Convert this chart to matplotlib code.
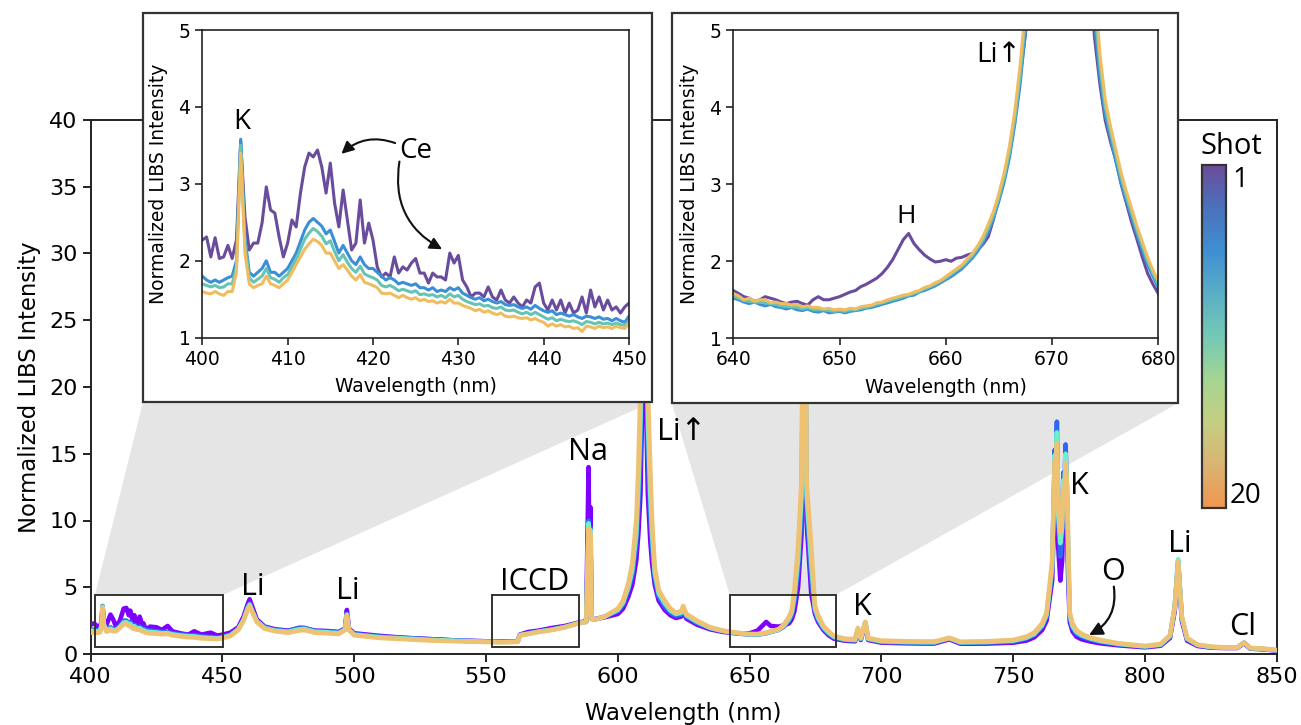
import numpy as np
import matplotlib
matplotlib.use('Agg')
import matplotlib.pyplot as plt
from matplotlib.patches import Rectangle, Polygon
from matplotlib.colors import LinearSegmentedColormap, Normalize
from matplotlib.cm import ScalarMappable

# ---------------- data ----------------
wl_main = [400, 401.3, 402.5, 403.5, 404.1, 404.5, 405.0, 406, 407.5, 408.5, 409.5, 411, 412.5, 413.5, 414.5, 415, 416, 416.6, 417.5, 418.6,
           419.3, 420, 421, 422.5, 425, 427, 429.2, 431, 434, 437, 439.3, 442, 445.5, 448, 450,
           453, 456, 458, 459.5, 460.3, 461.2, 463, 466, 470, 475, 479, 481, 485, 490, 494, 496.5, 497.2, 498, 500, 505,
           510, 520, 530, 540, 550, 556, 562, 562.8, 566, 570, 575, 580, 585, 588, 588.9, 589.3, 589.6, 590.0, 591, 595,
           600, 602, 604, 605.5, 607, 607.8, 608.6, 609.4, 610.0, 610.6, 611.4, 612.3, 613, 614, 615.5, 617.8, 620, 622, 624, 624.8,
           626, 630, 635, 640, 645, 650, 653, 656.3, 658, 661, 663,
           665, 666, 667, 668.4, 669.7, 670.2, 670.8, 671.3, 671.6, 673.4, 674.8, 676, 678, 680, 682, 686, 690, 691.1, 692.2, 693.9,
           695, 700, 710, 720, 725.8, 730, 740, 750, 755, 758, 761, 762.7, 764.8, 765.8, 766.2, 766.6, 767.1, 767.9, 768.6, 769.0,
           769.4, 769.9, 770.5, 770.9, 771.5, 772.5, 774, 776, 779, 783, 790, 800, 806, 809.5, 811.3, 812.6, 814, 816, 820, 825,
           830, 835, 837.6, 840, 845, 850]

main_shot1 = [2.2, 2.3, 2.05, 2.1, 2.4, 3.55, 2.5, 2.2, 2.95, 2.6, 2.1, 2.45, 3.4, 3.45, 2.9, 3.25, 2.45, 2.9, 2.15, 2.8,
              2.3, 2.3, 1.8, 2.05, 2.0, 1.8, 2.1, 1.7, 1.55, 1.45, 1.7, 1.45, 1.6, 1.38, 1.45,
              1.6, 2.0, 2.8, 3.7, 4.1, 3.6, 2.6, 2.05, 1.85, 1.75, 1.95, 1.95, 1.75, 1.72, 1.65, 1.9, 3.3, 1.9, 1.55, 1.45,
              1.35, 1.2, 1.1, 1.0, 0.95, 0.95, 0.95, 1.45, 1.65, 1.75, 1.95, 2.1, 2.35, 2.45, 14, 4, 11, 2.7, 2.6, 2.75,
              3.0, 3.4, 4.3, 5.2, 7.0, 9.0, 12, 20, 60, 20, 12, 8.5, 6.8, 5.2, 4.0, 3.3, 2.9, 2.7, 2.8, 3.2,
              2.65, 2.2, 1.85, 1.65, 1.55, 1.55, 1.75, 2.4, 2.1, 2.05, 2.15,
              2.3, 2.6, 3.2, 5.0, 9.0, 18, 60, 18, 10, 4.5, 3.0, 2.4, 1.8, 1.4, 1.15, 1.0, 0.95, 1.8, 1.05, 2.3,
              1.05, 0.85, 0.8, 0.78, 1.1, 0.77, 0.78, 0.85, 1.0, 1.25, 1.8, 2.5, 5.5, 12, 11, 14, 8, 5.5, 7, 10,
              9, 13, 9, 5.5, 2.4, 1.7, 1.3, 1.1, 0.95, 0.8, 0.65, 0.5, 0.62, 1.2, 3.2, 6.7, 2.5, 1.0, 0.6, 0.48,
              0.45, 0.45, 0.8, 0.4, 0.35, 0.25]

main_shot3 = [1.85, 1.8, 1.78, 1.82, 2.2, 3.6, 2.3, 1.82, 2.0, 1.85, 1.85, 2.1, 2.5, 2.5, 2.35, 2.4, 2.1, 2.2, 2.0, 2.05,
              1.95, 1.9, 1.8, 1.75, 1.7, 1.65, 1.65, 1.55, 1.47, 1.4, 1.4, 1.32, 1.27, 1.22, 1.28,
              1.45, 1.9, 2.6, 3.5, 3.8, 3.3, 2.5, 2.0, 1.8, 1.72, 1.95, 1.95, 1.72, 1.7, 1.62, 1.85, 3.0, 1.85, 1.5, 1.4,
              1.3, 1.2, 1.1, 1.0, 0.95, 0.92, 0.93, 1.42, 1.55, 1.7, 1.85, 2.05, 2.32, 2.42, 10, 3.2, 9.5, 2.65, 2.58, 2.8,
              3.2, 3.7, 4.8, 5.9, 8.2, 11, 15, 26, 60, 26, 15, 10.5, 8.0, 5.7, 4.3, 3.55, 3.1, 2.85, 2.95, 3.35,
              2.8, 2.32, 1.92, 1.7, 1.55, 1.45, 1.45, 1.55, 1.65, 1.8, 2.05,
              2.5, 2.9, 3.9, 6.3, 10.5, 21, 60, 21, 11, 5.6, 3.2, 2.55, 1.9, 1.5, 1.22, 1.05, 1.0, 1.85, 1.1, 2.35,
              1.1, 0.9, 0.85, 0.83, 1.15, 0.82, 0.85, 0.93, 1.15, 1.42, 2.05, 2.8, 6.2, 15.3, 13.5, 17.4, 10, 7.3, 9, 13.6,
              12, 15.7, 11.5, 6.8, 2.7, 1.95, 1.5, 1.3, 1.1, 0.92, 0.72, 0.54, 0.67, 1.3, 3.5, 7.0, 2.7, 1.1, 0.65, 0.5,
              0.47, 0.47, 0.85, 0.42, 0.37, 0.27]

main_shot7 = [1.75, 1.7, 1.7, 1.72, 2.1, 3.55, 2.2, 1.75, 1.9, 1.78, 1.78, 2.0, 2.36, 2.38, 2.22, 2.26, 2.0, 2.08, 1.9, 1.93,
              1.83, 1.78, 1.68, 1.65, 1.61, 1.56, 1.57, 1.47, 1.39, 1.33, 1.32, 1.24, 1.2, 1.17, 1.22,
              1.4, 1.85, 2.55, 3.4, 3.7, 3.25, 2.45, 1.95, 1.75, 1.67, 1.85, 1.88, 1.67, 1.62, 1.56, 1.82, 2.95, 1.82, 1.45, 1.35,
              1.25, 1.15, 1.05, 0.98, 0.92, 0.9, 0.92, 1.41, 1.52, 1.67, 1.82, 2.02, 2.3, 2.4, 9.8, 3.1, 9.3, 2.62, 2.56, 2.8,
              3.3, 3.85, 5.0, 6.3, 9.0, 12.5, 17.5, 30, 60, 30, 17.5, 12, 9.0, 6.1, 4.55, 3.8, 3.25, 3.0, 3.08, 3.48,
              2.9, 2.42, 1.96, 1.72, 1.57, 1.47, 1.47, 1.57, 1.67, 1.82, 2.12,
              2.65, 3.1, 4.3, 7.1, 11.8, 23, 60, 23, 12, 6.8, 3.4, 2.7, 2.0, 1.6, 1.3, 1.1, 1.05, 1.9, 1.15, 2.4,
              1.15, 0.95, 0.9, 0.88, 1.2, 0.87, 0.9, 1.0, 1.22, 1.5, 2.15, 2.95, 6.5, 14.9, 13.3, 16.6, 10.5, 8.3, 9.5, 13,
              11.8, 15, 12, 7.4, 2.9, 2.1, 1.65, 1.4, 1.18, 0.98, 0.76, 0.57, 0.71, 1.35, 3.5, 7.1, 2.75, 1.15, 0.68, 0.53,
              0.48, 0.48, 0.85, 0.44, 0.38, 0.28]

main_shot20 = [1.6, 1.6, 1.58, 1.62, 2.0, 3.45, 2.1, 1.67, 1.8, 1.7, 1.7, 1.95, 2.22, 2.25, 2.1, 2.1, 1.9, 1.95, 1.8, 1.82,
               1.72, 1.68, 1.58, 1.55, 1.52, 1.48, 1.5, 1.4, 1.32, 1.26, 1.24, 1.17, 1.14, 1.12, 1.18,
               1.35, 1.8, 2.5, 3.3, 3.6, 3.2, 2.4, 1.9, 1.7, 1.6, 1.75, 1.8, 1.6, 1.55, 1.5, 1.8, 2.9, 1.8, 1.4, 1.3,
               1.2, 1.1, 1.0, 0.95, 0.9, 0.88, 0.9, 1.4, 1.5, 1.65, 1.8, 2.0, 2.3, 2.4, 9.4, 3.0, 9.0, 2.6, 2.55, 2.8,
               3.4, 4.0, 5.3, 6.8, 10, 14, 20, 35, 60, 35, 20, 14, 10, 6.5, 4.8, 4.0, 3.4, 3.1, 3.2, 3.6,
               3.0, 2.5, 2.0, 1.75, 1.6, 1.5, 1.5, 1.6, 1.7, 1.85, 2.2,
               2.8, 3.3, 4.8, 8.0, 13, 25, 60, 25, 13, 8.0, 3.6, 2.9, 2.1, 1.7, 1.35, 1.15, 1.1, 1.95, 1.2, 2.4,
               1.2, 1.0, 0.95, 0.93, 1.2, 0.92, 0.95, 1.05, 1.3, 1.6, 2.3, 3.1, 7.0, 14.4, 13, 15.8, 11, 9.1, 10, 12.5,
               11.5, 14.3, 12.5, 8, 3.1, 2.3, 1.8, 1.5, 1.25, 1.05, 0.8, 0.6, 0.75, 1.4, 3.5, 6.9, 2.8, 1.2, 0.7, 0.55,
               0.5, 0.5, 0.85, 0.45, 0.4, 0.3]

# inset 1 : 400-450 nm, 0.5 nm steps
wl_inset1 = np.arange(400.0, 450.01, 0.5)
in1_shot1 = [2.27, 2.31, 2.05, 2.30, 2.03, 2.05, 2.20, 2.03, 2.27, 3.55, 2.57, 2.14, 2.23, 2.23, 2.49, 2.96, 2.66, 2.62, 2.31, 2.05,
             2.23, 2.53, 2.44, 2.88, 3.22, 3.40, 3.35, 3.44, 3.22, 2.88, 3.27, 2.75, 2.44, 2.92, 2.53, 2.14, 2.23, 2.79, 2.23, 2.49,
             2.27, 1.92, 1.79, 1.84, 1.79, 2.05, 1.84, 1.92, 1.88, 1.97, 2.03, 1.84, 1.84, 1.71, 1.84, 1.79, 1.79, 1.75, 2.10, 1.97,
             2.07, 1.75, 1.66, 1.53, 1.58, 1.58, 1.53, 1.66, 1.53, 1.49, 1.62, 1.49, 1.45, 1.53, 1.45, 1.40, 1.49, 1.45, 1.66, 1.71,
             1.45, 1.36, 1.49, 1.36, 1.49, 1.32, 1.45, 1.32, 1.36, 1.53, 1.32, 1.62, 1.40, 1.53, 1.36, 1.49, 1.36, 1.40, 1.32, 1.40,
             1.45]
in1_shot4 = [1.80, 1.75, 1.72, 1.75, 1.72, 1.75, 1.78, 1.80, 2.00, 3.58, 2.30, 1.85, 1.80, 1.85, 1.90, 2.00, 1.85, 1.85, 1.80, 1.85,
             1.90, 2.00, 2.10, 2.25, 2.40, 2.50, 2.55, 2.50, 2.45, 2.35, 2.40, 2.25, 2.10, 2.20, 2.10, 2.00, 1.95, 2.05, 1.95, 1.90,
             1.90, 1.85, 1.80, 1.75, 1.78, 1.75, 1.70, 1.72, 1.70, 1.68, 1.70, 1.65, 1.65, 1.62, 1.65, 1.60, 1.62, 1.60, 1.65, 1.62,
             1.65, 1.58, 1.55, 1.52, 1.50, 1.52, 1.48, 1.50, 1.47, 1.45, 1.47, 1.43, 1.42, 1.43, 1.40, 1.38, 1.40, 1.37, 1.42, 1.38,
             1.35, 1.33, 1.35, 1.30, 1.32, 1.30, 1.28, 1.30, 1.27, 1.25, 1.28, 1.27, 1.25, 1.27, 1.24, 1.25, 1.22, 1.25, 1.22, 1.20,
             1.28]
in1_shot10 = [1.70, 1.68, 1.66, 1.68, 1.65, 1.66, 1.70, 1.70, 1.92, 3.50, 2.20, 1.78, 1.72, 1.76, 1.80, 1.90, 1.78, 1.76, 1.72, 1.78,
              1.82, 1.92, 2.02, 2.15, 2.28, 2.36, 2.42, 2.38, 2.32, 2.22, 2.26, 2.12, 2.00, 2.08, 1.98, 1.90, 1.85, 1.93, 1.83, 1.80,
              1.78, 1.75, 1.68, 1.66, 1.68, 1.65, 1.61, 1.63, 1.61, 1.59, 1.61, 1.56, 1.57, 1.55, 1.56, 1.53, 1.55, 1.52, 1.57, 1.53,
              1.55, 1.50, 1.47, 1.45, 1.43, 1.44, 1.41, 1.42, 1.39, 1.38, 1.40, 1.36, 1.35, 1.36, 1.33, 1.31, 1.33, 1.30, 1.33, 1.30,
              1.27, 1.24, 1.26, 1.22, 1.24, 1.22, 1.21, 1.22, 1.20, 1.17, 1.21, 1.20, 1.18, 1.20, 1.18, 1.19, 1.17, 1.19, 1.17, 1.16,
              1.22]
in1_shot20 = [1.60, 1.58, 1.57, 1.60, 1.57, 1.55, 1.60, 1.60, 1.85, 3.40, 2.10, 1.70, 1.65, 1.68, 1.70, 1.80, 1.70, 1.68, 1.65, 1.70,
              1.75, 1.85, 1.95, 2.05, 2.15, 2.22, 2.28, 2.25, 2.20, 2.10, 2.10, 2.00, 1.90, 1.95, 1.88, 1.80, 1.75, 1.82, 1.72, 1.70,
              1.68, 1.65, 1.58, 1.57, 1.58, 1.55, 1.52, 1.55, 1.52, 1.50, 1.52, 1.48, 1.50, 1.47, 1.48, 1.45, 1.47, 1.45, 1.50, 1.45,
              1.45, 1.42, 1.40, 1.38, 1.35, 1.37, 1.33, 1.35, 1.32, 1.30, 1.32, 1.28, 1.27, 1.28, 1.26, 1.25, 1.26, 1.23, 1.25, 1.22,
              1.20, 1.15, 1.18, 1.15, 1.17, 1.14, 1.15, 1.12, 1.13, 1.08, 1.15, 1.14, 1.12, 1.15, 1.13, 1.14, 1.12, 1.15, 1.13, 1.12,
              1.18]

# inset 2 : 640-680 nm, 0.5 nm steps
wl_inset2 = np.arange(640.0, 680.01, 0.5)
in2_shot1 = [1.62, 1.58, 1.54, 1.52, 1.48, 1.50, 1.54, 1.52, 1.50, 1.47, 1.45, 1.47, 1.48, 1.45, 1.43, 1.50, 1.54, 1.50, 1.50, 1.52,
             1.54, 1.57, 1.60, 1.62, 1.67, 1.70, 1.74, 1.78, 1.84, 1.92, 2.02, 2.15, 2.28, 2.36, 2.23, 2.15, 2.08, 2.03, 1.99, 2.00,
             2.02, 2.00, 2.04, 2.05, 2.08, 2.10, 2.15, 2.22, 2.32, 2.55, 2.84, 3.10, 3.44, 3.90, 4.39, 4.95, 5.8, 7.0, 9.0, 13.0,
             20.0, 30.0, 35.0, 30.0, 20.0, 13.0, 8.0, 5.8, 4.9, 4.3, 3.83, 3.55, 3.31, 3.00, 2.75, 2.50, 2.28, 2.05, 1.84, 1.70,
             1.58]
in2_shot4 = [1.52, 1.50, 1.47, 1.45, 1.47, 1.44, 1.42, 1.44, 1.41, 1.40, 1.38, 1.40, 1.37, 1.36, 1.38, 1.35, 1.34, 1.36, 1.33, 1.34,
             1.35, 1.33, 1.35, 1.36, 1.37, 1.39, 1.40, 1.42, 1.44, 1.46, 1.48, 1.50, 1.52, 1.55, 1.56, 1.60, 1.62, 1.65, 1.68, 1.72,
             1.76, 1.80, 1.85, 1.90, 1.97, 2.04, 2.13, 2.24, 2.38, 2.56, 2.78, 3.03, 3.35, 3.78, 4.30, 5.0, 6.0, 7.8, 11.0, 16.0,
             25.0, 38.0, 42.0, 38.0, 25.0, 16.0, 9.5, 6.6, 5.1, 4.4, 3.90, 3.60, 3.30, 3.02, 2.78, 2.56, 2.34, 2.14, 1.95, 1.80,
             1.66]
in2_shot10 = [1.55, 1.52, 1.49, 1.48, 1.47, 1.47, 1.46, 1.45, 1.44, 1.42, 1.41, 1.41, 1.40, 1.38, 1.40, 1.37, 1.37, 1.37, 1.36, 1.35,
              1.36, 1.35, 1.37, 1.37, 1.39, 1.40, 1.42, 1.44, 1.46, 1.48, 1.50, 1.52, 1.54, 1.56, 1.58, 1.61, 1.64, 1.67, 1.70, 1.74,
              1.78, 1.83, 1.88, 1.93, 2.00, 2.07, 2.17, 2.28, 2.43, 2.60, 2.83, 3.09, 3.42, 3.86, 4.42, 5.15, 6.2, 8.1, 11.5, 17.0,
              26.0, 39.0, 44.0, 39.0, 26.0, 17.0, 10.2, 7.0, 5.35, 4.55, 4.00, 3.68, 3.38, 3.08, 2.84, 2.62, 2.40, 2.20, 2.00, 1.84,
              1.70]
in2_shot20 = [1.58, 1.55, 1.50, 1.52, 1.48, 1.50, 1.50, 1.46, 1.47, 1.45, 1.45, 1.43, 1.44, 1.41, 1.42, 1.40, 1.40, 1.38, 1.39, 1.37,
              1.38, 1.37, 1.39, 1.38, 1.41, 1.42, 1.43, 1.46, 1.47, 1.50, 1.52, 1.54, 1.56, 1.57, 1.60, 1.62, 1.66, 1.68, 1.72, 1.75,
              1.80, 1.85, 1.90, 1.95, 2.03, 2.10, 2.20, 2.32, 2.48, 2.65, 2.88, 3.15, 3.50, 3.95, 4.55, 5.3, 6.5, 8.5, 12.0, 18.0,
              28.0, 40.0, 45.0, 40.0, 28.0, 18.0, 11.0, 7.5, 5.6, 4.7, 4.10, 3.75, 3.45, 3.15, 2.90, 2.68, 2.45, 2.25, 2.05, 1.88,
              1.75]

xticks_main = [400, 450, 500, 550, 600, 650, 700, 750, 800, 850]
yticks_main = [0, 5, 10, 15, 20, 25, 30, 35, 40]
xticks_in1 = [400, 410, 420, 430, 440, 450]
xticks_in2 = [640, 650, 660, 670, 680]
yticks_in = [1, 2, 3, 4, 5]
shot_labels = ['1', '20']

main_colors = ['#8000ff', '#2e66f5', '#6ef0cc', '#efc273']
inset_colors = ['#6a4c9c', '#3b8fd6', '#66c4b6', '#f0bc60']
cb_colors = ['#6b4c9a', '#4a72bc', '#3f8fd2', '#5aafc6', '#74c8b6', '#a4d592', '#c4cf82', '#d9b472', '#f0964e']

ANN = ['Open Sans', 'DejaVu Sans']

# ---------------- figure ----------------
W, H = 1301, 725
fig = plt.figure(figsize=(W / 100, H / 100), dpi=100)


def fx(px):
    return px / W


def fy(py):
    return 1 - py / H


ax = fig.add_axes([fx(90.7), fy(654), fx(1276.7) - fx(90.7), fy(120) - fy(654)])
ax.set_xlim(400, 850)
ax.set_ylim(0, 40)
ax.set_xticks(xticks_main)
ax.set_yticks(yticks_main)
ax.tick_params(labelsize=16, length=6, width=1.4, color='#222222')
for s in ax.spines.values():
    s.set_linewidth(1.4)
    s.set_color('#222222')
ax.set_xlabel('Wavelength (nm)', fontsize=16.4)
ax.set_ylabel('Normalized LIBS Intensity', fontsize=16.4)
ax.xaxis.set_label_coords(0.5, -0.1105)
ax.xaxis.label.set_va('center')
ax.yaxis.set_label_coords(-0.052, 0.5)
ax.yaxis.label.set_va('center')

for ys, c in zip([main_shot1, main_shot3, main_shot7, main_shot20], main_colors):
    ax.plot(wl_main, ys, color=c, lw=3.3, solid_joinstyle='round', solid_capstyle='round', zorder=3)

# zoom rectangles
rects = [(401.6, 450.1), (552.4, 585.4), (642.5, 682.7)]
for x0, x1 in rects:
    ax.add_patch(Rectangle((x0, 0.5), x1 - x0, 3.92, fill=False, ec='#333333', lw=1.4, zorder=4))

# inset frames (pixel coords)
frames = [(143, 13, 652, 402), (671.7, 13, 1178.3, 403)]


def fig2data(px, py):
    d = fig.transFigure.transform((fx(px), fy(py)))
    return ax.transData.inverted().transform(d)


for (x0, x1), (l, t, r, b) in zip([rects[0], rects[2]], frames):
    pts = [(x0, 4.42), (x1, 4.42), tuple(fig2data(r, b)), tuple(fig2data(l, b))]
    ax.add_patch(Polygon(pts, closed=True, fc='#e5e5e5', ec='none', zorder=1, clip_on=False))
    fig.add_artist(Rectangle((fx(l), fy(b)), fx(r) - fx(l), fy(t) - fy(b), transform=fig.transFigure,
                             fc='white', ec='#333333', lw=1.6, zorder=5))

# main annotations
ann_kw = dict(fontsize=22, family=ANN, ha='center', va='baseline', zorder=6)
ax.text(461.6, 4.45, 'Li', **ann_kw)
ax.text(497.7, 4.12, 'Li', **ann_kw)
ax.text(568.6, 4.8, 'ICCD', **ann_kw)
ax.text(588.8, 14.54, 'Na', **ann_kw)
ax.text(614.7, 16.04, 'Li\u2191', fontsize=22, family=ANN, ha='left', va='baseline', zorder=6)
ax.text(692.7, 2.92, 'K', **ann_kw)
ax.text(775.3, 12.0, 'K', **ann_kw)
ax.text(788.0, 5.55, 'O', **ann_kw)
ax.text(813.2, 7.67, 'Li', **ann_kw)
ax.text(837.2, 1.42, 'Cl', **ann_kw)
ax.annotate('', xy=(778.8, 1.42), xytext=(788.2, 5.05),
            arrowprops=dict(arrowstyle='-|>', color='#111111', lw=1.6, mutation_scale=20,
                            shrinkA=0, shrinkB=0, connectionstyle='arc3,rad=-0.35'), zorder=6)


def style_inset(a, xt, xl):
    a.set_zorder(6)
    a.set_xlim(*xl)
    a.set_ylim(1, 5)
    a.set_xticks(xt)
    a.set_yticks(yticks_in)
    a.tick_params(labelsize=13.5, length=5, width=1.2, color='#222222')
    for s in a.spines.values():
        s.set_linewidth(1.2)
        s.set_color('#222222')
    a.set_xlabel('Wavelength (nm)', fontsize=13.5)
    a.set_ylabel('Normalized LIBS Intensity', fontsize=13.5)
    a.xaxis.label.set_va('center')
    a.yaxis.label.set_va('center')


# inset 1
ins1 = fig.add_axes([fx(202.3), fy(337.7), fx(629) - fx(202.3), fy(30) - fy(337.7)])
style_inset(ins1, xticks_in1, (400, 450))
ins1.xaxis.set_label_coords(0.5, -0.157)
ins1.yaxis.set_label_coords(-0.1026, 0.5)
for ys, c in zip([in1_shot1, in1_shot4, in1_shot10, in1_shot20], inset_colors):
    ins1.plot(wl_inset1, ys, color=c, lw=2.2, solid_joinstyle='round')
ins1.text(404.6, 3.71, 'K', fontsize=20, family=ANN, ha='center', va='baseline')
ins1.text(425.0, 3.33, 'Ce', fontsize=20, family=ANN, ha='center', va='baseline')
ins1.annotate('', xy=(416.3, 3.39), xytext=(422.6, 3.53),
              arrowprops=dict(arrowstyle='-|>', color='#111111', lw=1.5, mutation_scale=18,
                              shrinkA=0, shrinkB=0, connectionstyle='arc3,rad=0.3'))
ins1.annotate('', xy=(428.1, 2.15), xytext=(423.1, 3.29),
              arrowprops=dict(arrowstyle='-|>', color='#111111', lw=1.5, mutation_scale=18,
                              shrinkA=0, shrinkB=0, connectionstyle='arc3,rad=0.35'))

# inset 2
ins2 = fig.add_axes([fx(733.3), fy(338.3), fx(1158.3) - fx(733.3), fy(30) - fy(338.3)])
style_inset(ins2, xticks_in2, (640, 680))
ins2.xaxis.set_label_coords(0.5, -0.161)
ins2.yaxis.set_label_coords(-0.102, 0.5)
for ys, c in zip([in2_shot1, in2_shot4, in2_shot10, in2_shot20], inset_colors):
    ins2.plot(wl_inset2, ys, color=c, lw=2.2, solid_joinstyle='round')
ins2.text(662.9, 4.58, 'Li\u2191', fontsize=20, family=ANN, ha='left', va='baseline')
ins2.text(656.3, 2.49, 'H', fontsize=19, family=ANN, ha='center', va='baseline')

# colorbar
cax = fig.add_axes([fx(1201.7), fy(508), fx(1226) - fx(1201.7), fy(165) - fy(508)])
cmap = LinearSegmentedColormap.from_list('shots', cb_colors)
sm = ScalarMappable(norm=Normalize(1, 20), cmap=cmap)
cb = fig.colorbar(sm, cax=cax)
cax.invert_yaxis()
cb.set_ticks([])
cb.outline.set_linewidth(1.6)
cb.outline.set_edgecolor('#333333')
fig.text(fx(1231), fy(154), 'Shot', fontsize=21, family=ANN, ha='center', va='baseline')
fig.text(fx(1232.5), fy(187), shot_labels[0], fontsize=20, family=ANN, ha='left', va='baseline')
fig.text(fx(1229.5), fy(503), shot_labels[1], fontsize=20, family=ANN, ha='left', va='baseline')

fig.savefig('out.png', dpi=100)
